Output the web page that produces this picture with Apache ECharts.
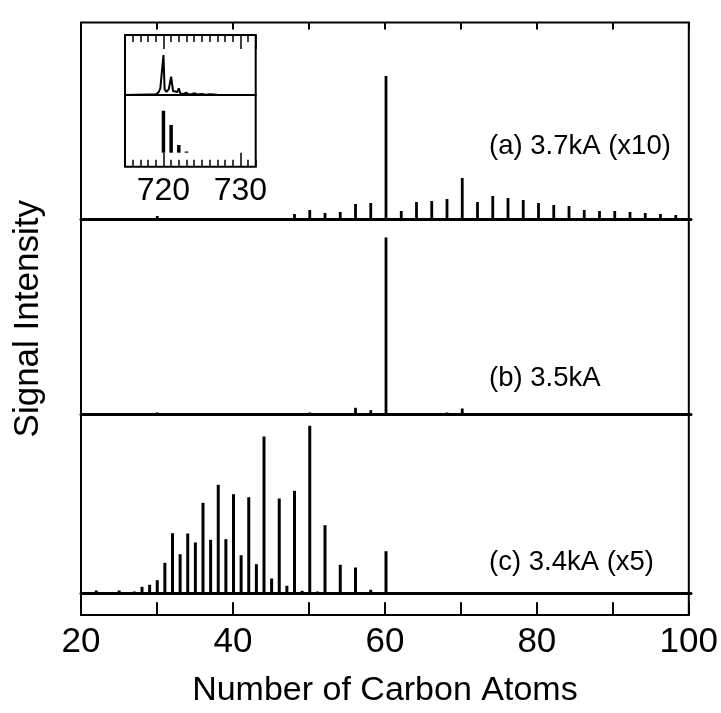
<!DOCTYPE html>
<html><head><meta charset="utf-8">
<script src="https://cdn.jsdelivr.net/npm/echarts@6/dist/echarts.min.js"></script>
<style>html,body{margin:0;padding:0;background:#fff}#c{width:721px;height:713px}</style>
</head><body><div id="c"></div>
<script>
// ---- data (intensities in arbitrary units) ----
const carbonA = [30,48,50,52,54,56,58,60,62,64,66,68,70,72,74,76,78,80,82,84,86,88,90,92,94,96,98];
const intensityA = [3,5,9,6,7,15,16,143,8,17,18,20,41,17,23,21,19,16,14,13,9,8,8,7,6,5,4];

const carbonB = [30,50,56,58,60,64,66,68,70,72,76,80];
const intensityB = [2,2,6.7,4.3,177,1.5,1.5,2,6,1.5,1.5,1.5];

const carbonC = [22,25,27,28,29,30,31,32,33,34,35,36,37,38,39,40,41,42,43,44,45,46,47,48,49,50,51,52,53,54,56,58,60,62,64];
const intensityC = [3,3,2,6.7,8.7,13.3,30.7,60.3,39.3,60,51,90.7,53.7,108.7,54.3,99.3,38.3,96.3,29.3,157,15,95,7.7,102.7,2.7,167.7,2,68.3,1,28.7,26,3.7,42.3,1.5,1];

const insetMass = [715,718,719,719.4,719.6,719.85,720,720.15,720.4,720.7,721,721.25,721.5,721.8,722,722.2,722.6,723,723.3,723.7,724.1,724.4,725,725.5,726,727,728,732];
const insetSignal = [0,0.5,0.5,3,7,5,40,6,3,6,18.3,4,3,3,6.7,1.5,1,2.3,0.5,1,1.7,0.5,1,0.3,0.8,0.3,0,0];

const calcMass = [720,721,722,723];
const calcAbund = [42,27.7,7.7,0.7];

const xTicks = [20,40,60,80,100];
const insetTicks = [720,730];
const labels = ['(a) 3.7kA (x10)','(b) 3.5kA','(c) 3.4kA (x5)'];

// ---- chart ----
const FONT = '"Liberation Sans", Arial, sans-serif';
const pairs = (xs, ys) => xs.map((x, i) => [x, ys[i]]);
const hidden = {show:false};
const noSplit = {show:false};

const chart = echarts.init(document.getElementById('c'), null, {renderer:'canvas'});
const insetL = 125, insetW = 130.7, insetT = 35, insetH = 131.7;
const option = {
  animation:false,
  backgroundColor:'#fff',
  grid:[
    {left:81, right:30, top:22.5, bottom:89.5, show:true, borderColor:'#000', borderWidth:2, backgroundColor:'transparent'},
    {left:81, right:30, top:22.5, height:196.5},
    {left:81, right:30, top:219, height:195.5},
    {left:81, right:30, top:414.5, height:179},
    {left:insetL, top:insetT, width:insetW, height:insetH, show:true, borderColor:'#000', borderWidth:2, backgroundColor:'#fff'},
    {left:insetL, top:insetT, width:insetW, height:60},
    {left:insetL, top:95, width:insetW, height:71.7},
    {left:insetL + 5*insetW/17, top:insetT, width:insetW*12/17, height:insetH}
  ],
  xAxis:[
    {gridIndex:0, type:'value', position:'bottom', min:20, max:100, interval:10,
     axisLine:{show:false}, splitLine:noSplit,
     axisTick:{show:true, inside:true, length:12.7, lineStyle:{color:'#000', width:2}},
     axisLabel:{show:true, margin:10, color:'#000', fontSize:35, fontFamily:FONT,
       formatter:v => xTicks.indexOf(v) >= 0 ? String(v) : ''},
     name:'Number of Carbon Atoms', nameLocation:'middle', nameGap:59,
     nameTextStyle:{color:'#000', fontSize:34, fontFamily:FONT}},
    {gridIndex:0, type:'value', position:'top', min:20, max:100, interval:10,
     axisLine:{show:false}, splitLine:noSplit, axisLabel:hidden,
     axisTick:{show:true, inside:true, length:7, lineStyle:{color:'#000', width:2}}},
    {gridIndex:1, type:'value', min:20, max:100, splitLine:noSplit, axisTick:hidden, axisLabel:hidden,
     axisLine:{show:true, lineStyle:{color:'#000', width:3}}},
    {gridIndex:2, type:'value', min:20, max:100, splitLine:noSplit, axisTick:hidden, axisLabel:hidden,
     axisLine:{show:true, lineStyle:{color:'#000', width:3}}},
    {gridIndex:3, type:'value', min:20, max:100, splitLine:noSplit, axisTick:hidden, axisLabel:hidden,
     axisLine:{show:true, lineStyle:{color:'#000', width:3}}},
    {gridIndex:4, type:'value', position:'bottom', min:715, max:732, interval:1,
     axisLine:{show:false}, splitLine:noSplit, axisLabel:hidden,
     axisTick:{show:true, inside:true, length:7, lineStyle:{color:'#000', width:1.5}}},
    {gridIndex:4, type:'value', position:'top', min:715, max:732, interval:1,
     axisLine:{show:false}, splitLine:noSplit, axisLabel:hidden,
     axisTick:{show:true, inside:true, length:7, lineStyle:{color:'#000', width:1.5}}},
    {gridIndex:5, type:'value', min:715, max:732, splitLine:noSplit, axisTick:hidden, axisLabel:hidden,
     axisLine:{show:true, lineStyle:{color:'#000', width:2}}},
    {gridIndex:6, type:'value', min:715, max:732, show:false},
    {gridIndex:7, type:'value', position:'bottom', min:720, max:732, interval:10,
     axisLine:{show:false}, splitLine:noSplit,
     axisTick:{show:true, inside:true, length:14, lineStyle:{color:'#000', width:1.5}},
     axisLabel:{show:true, margin:8.6, color:'#000', fontSize:32, fontFamily:FONT, showMaxLabel:false,
       formatter:v => insetTicks.indexOf(v) >= 0 ? String(v) : ''}},
    {gridIndex:7, type:'value', position:'top', min:720, max:732, interval:10,
     axisLine:{show:false}, splitLine:noSplit, axisLabel:hidden,
     axisTick:{show:true, inside:true, length:14, lineStyle:{color:'#000', width:1.5}}}
  ],
  yAxis:[
    {gridIndex:0, type:'value', min:0, max:1, axisLine:{show:false}, axisTick:hidden, axisLabel:hidden, splitLine:noSplit,
     name:'Signal Intensity', nameLocation:'middle', nameGap:35, nameRotate:90,
     nameTextStyle:{color:'#000', fontSize:35, fontFamily:FONT}},
    {gridIndex:1, type:'value', min:0, max:196.5, show:false},
    {gridIndex:2, type:'value', min:0, max:195.5, show:false},
    {gridIndex:3, type:'value', min:0, max:179, show:false},
    {gridIndex:4, type:'value', min:0, max:1, show:false},
    {gridIndex:5, type:'value', min:0, max:60, show:false},
    {gridIndex:6, type:'value', min:-14, max:57.7, show:false},
    {gridIndex:7, type:'value', min:0, max:1, show:false}
  ],
  series:[
    {type:'bar', xAxisIndex:2, yAxisIndex:1, barWidth:2.8, data:pairs(carbonA, intensityA), itemStyle:{color:'#000'}},
    {type:'bar', xAxisIndex:3, yAxisIndex:2, barWidth:2.8, data:pairs(carbonB, intensityB), itemStyle:{color:'#000'}},
    {type:'bar', xAxisIndex:4, yAxisIndex:3, barWidth:3, data:pairs(carbonC, intensityC), itemStyle:{color:'#000'}},
    {type:'line', xAxisIndex:7, yAxisIndex:5, data:pairs(insetMass, insetSignal), showSymbol:false, symbol:'none',
     lineStyle:{color:'#000', width:2}, z:5},
    {type:'bar', xAxisIndex:8, yAxisIndex:6, barWidth:3.5, barMinHeight:1.2, data:pairs(calcMass, calcAbund), itemStyle:{color:'#000'}, z:5}
  ],
  graphic:[
    {type:'text', left:489, top:132.75, z:10, style:{text:labels[0], fill:'#000', fontSize:27.5, fontFamily:FONT}},
    {type:'text', left:489, top:364.5, z:10, style:{text:labels[1], fill:'#000', fontSize:27.5, fontFamily:FONT}},
    {type:'text', left:489, top:548.5, z:10, style:{text:labels[2], fill:'#000', fontSize:27.5, fontFamily:FONT}}
  ]
};
chart.setOption(option);
</script></body></html>
